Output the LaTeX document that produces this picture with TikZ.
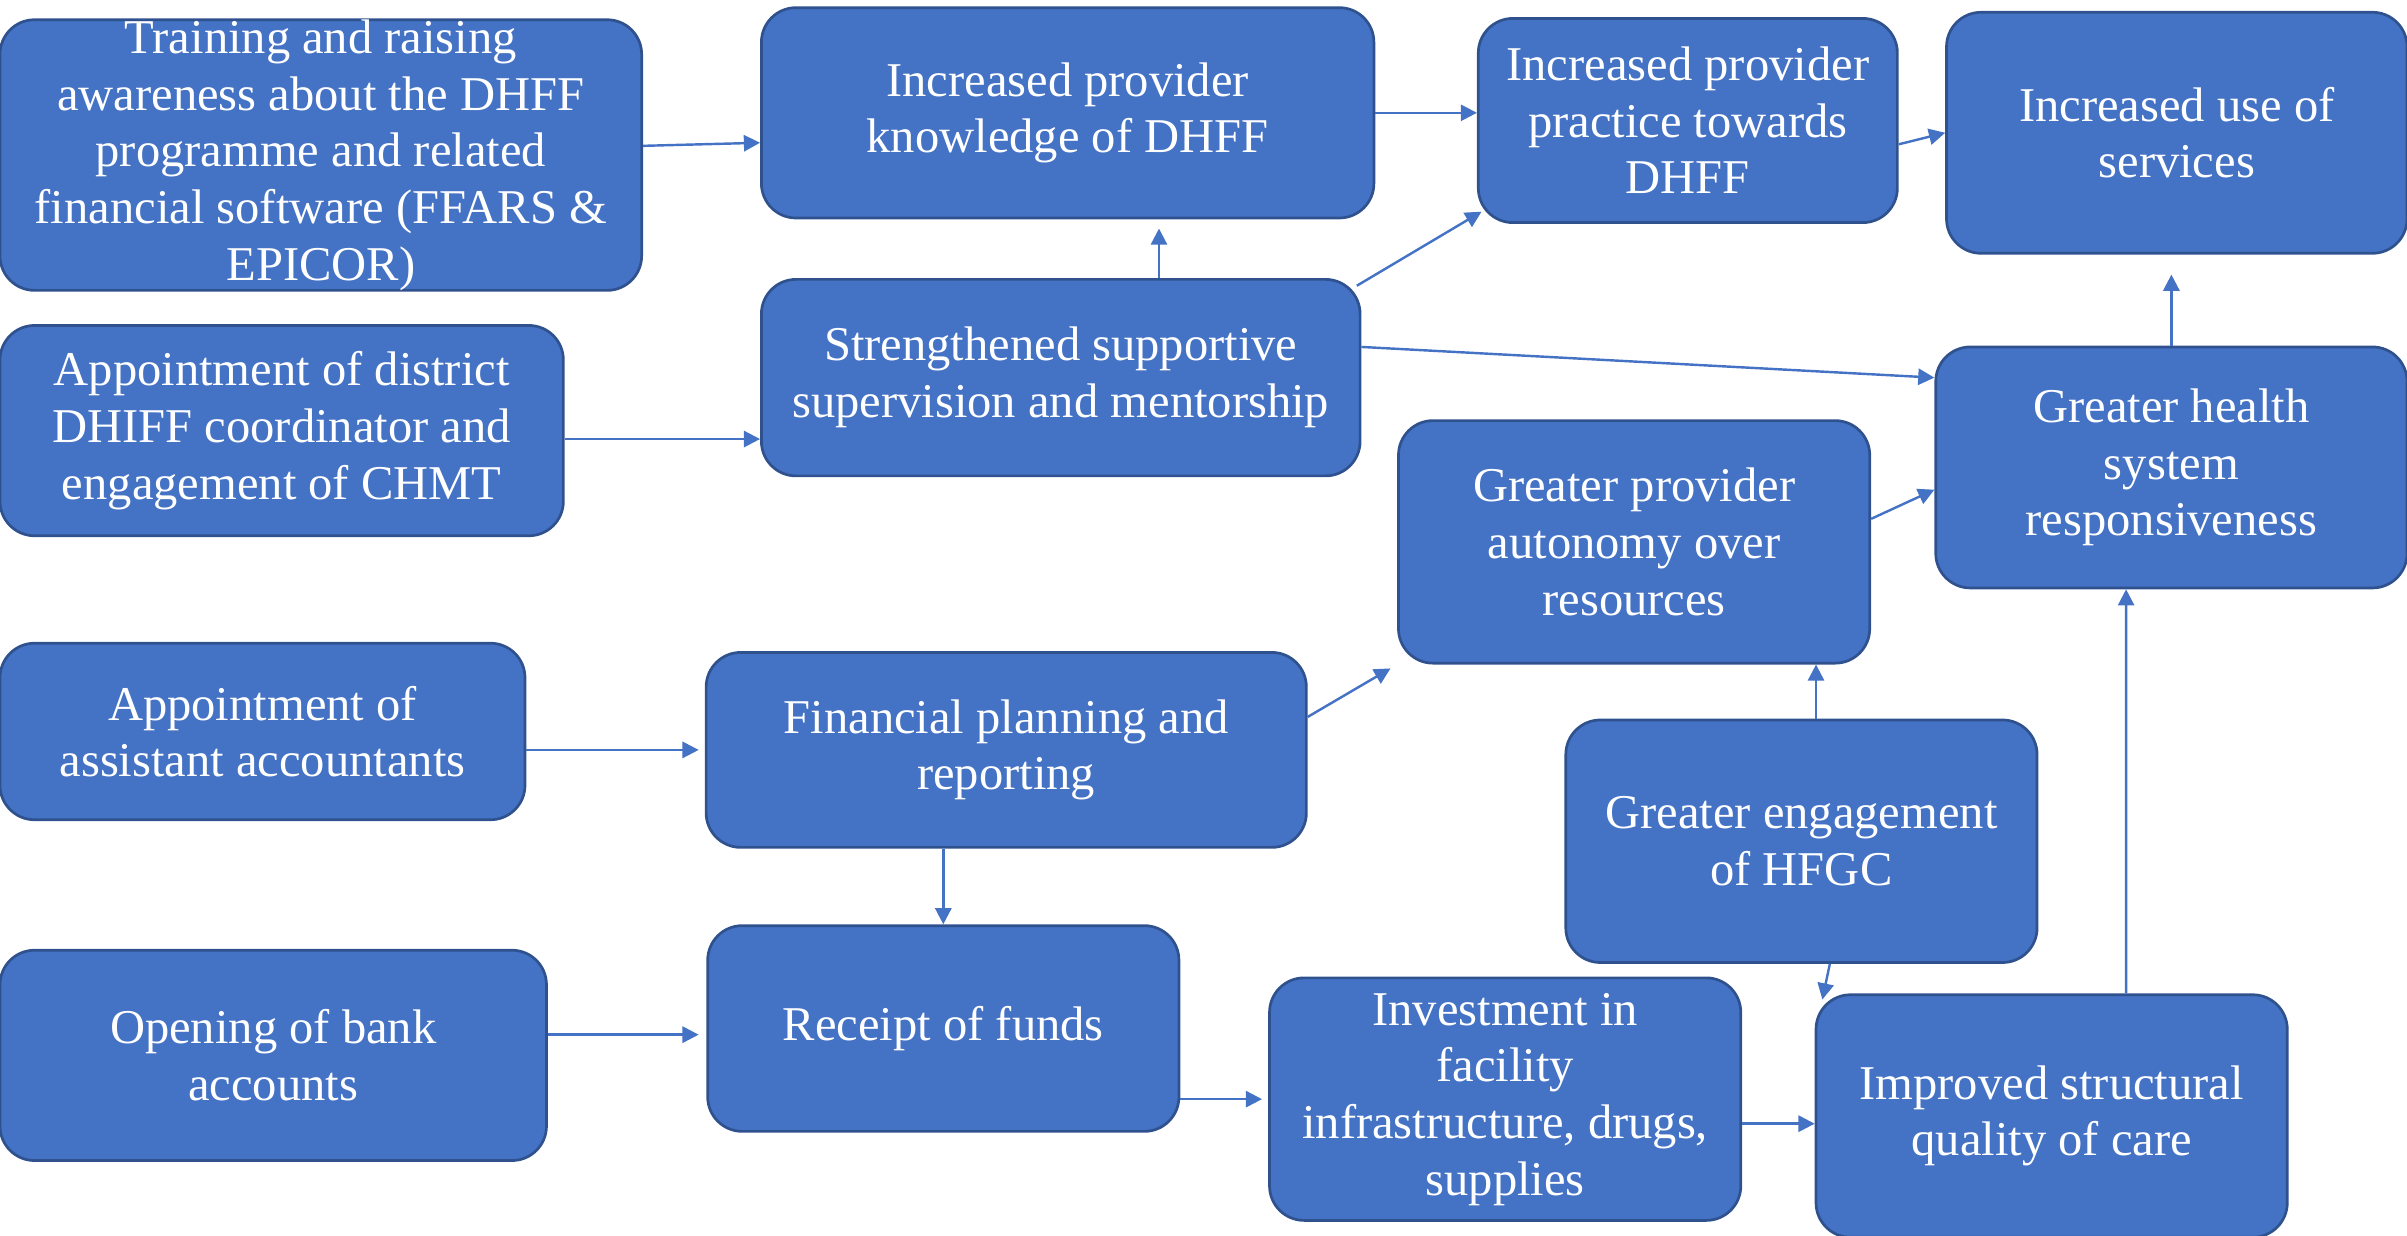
\documentclass[tikz,border=0pt]{standalone}
\usepackage{fontspec}
\setmainfont{Liberation Serif}
\usepackage{tikz}
\usetikzlibrary{positioning}
\usetikzlibrary{arrows.meta,calc}
\definecolor{boxFill}{HTML}{4472C4}
\definecolor{boxEdge}{HTML}{2F528F}
\tikzset{
    stepBox/.style={
		rectangle, rounded corners=0.45cm, fill=boxFill, draw=boxEdge, line width=1pt,
		text=white, align=center, inner sep=0pt,
		font=\fontsize{18}{21}\selectfont
	}
}
\tikzset{
    arr/.style={
		draw=boxFill, line width=0.9pt, -{Triangle[length=6pt,width=6pt]}
	}
}

\begin{document}
\begin{tikzpicture}
			\useasboundingbox (0,0) rectangle (31.36,-16.1);
			\node[stepBox, minimum width=8.36cm, minimum height=3.48cm] (train) at (4.18,-2.02) {Training and raising\\awareness about the DHFF\\programme and related\\financial software (FFARS \&\\EPICOR)};
			\node[stepBox, minimum width=7.98cm, minimum height=2.74cm] (know) at (13.91,-1.47) {Increased provider\\knowledge of DHFF};
			\node[stepBox, minimum width=5.46cm, minimum height=2.66cm] (pract) at (21.99,-1.57) {Increased provider\\practice towards\\DHFF};
			\node[stepBox, minimum width=6.0cm, minimum height=3.14cm] (use) at (28.36,-1.73) {Increased use of\\services};
			\node[stepBox, minimum width=7.34cm, minimum height=2.74cm] (coord) at (3.67,-5.61) {Appointment of district\\DHIFF coordinator and\\engagement of CHMT};
			\node[stepBox, minimum width=7.8cm, minimum height=2.56cm] (superv) at (13.82,-4.92) {Strengthened supportive\\supervision and mentorship};
			\node[stepBox, minimum width=6.14cm, minimum height=3.16cm] (auton) at (21.29,-7.06) {Greater provider\\autonomy over\\resources};
			\node[stepBox, minimum width=6.14cm, minimum height=3.14cm] (resp) at (28.29,-6.09) {Greater health\\system\\responsiveness};
			\node[stepBox, minimum width=6.84cm, minimum height=2.3cm] (acct) at (3.42,-9.53) {Appointment of\\assistant accountants};
			\node[stepBox, minimum width=7.82cm, minimum height=2.54cm] (plan) at (13.11,-9.77) {Financial planning and\\reporting};
			\node[stepBox, minimum width=6.14cm, minimum height=3.16cm] (hfgc) at (23.47,-10.96) {Greater engagement\\of HFGC};
			\node[stepBox, minimum width=7.12cm, minimum height=2.74cm] (bank) at (3.56,-13.75) {Opening of bank\\accounts};
			\node[stepBox, minimum width=6.14cm, minimum height=2.68cm] (funds) at (12.29,-13.4) {Receipt of funds};
			\node[stepBox, minimum width=6.14cm, minimum height=3.16cm] (invest) at (19.61,-14.32) {Investment in\\facility\\infrastructure, drugs,\\supplies};
			\node[stepBox, minimum width=6.14cm, minimum height=3.16cm] (qual) at (26.73,-14.54) {Improved structural\\quality of care};
			\draw[arr] ([yshift=0.12cm]train.east) -- ([yshift=-0.39cm]know.west);
			\draw[arr] (know.east) -- (know.east -| pract.west);
			\draw[arr] ([yshift=-0.31cm]pract.east) -- (use.west);
			\draw[arr, shorten >=0.12cm] ($(superv.north)+(1.28,0)$) -- ($(superv.north |- know.south)+(1.28,0)$);
			\draw[arr] ($(superv.north east)+(-0.06,-0.1)$) -- ($(pract.south west)+(0.06,0.16)$);
			\draw[arr] ([yshift=0.4cm]superv.east) -- ([yshift=1.17cm]resp.west);
			\draw[arr] ($(coord.east)+(0,-0.11)$) -- ($(coord.east -| superv.west)+(0,-0.11)$);
			\draw[arr] ([yshift=0.3cm]auton.east) -- ([yshift=-0.29cm]resp.west);
			\draw[arr, shorten >=0.26cm] (resp.north) -- (resp.north |- use.south);
			\draw[arr, shorten >=0.1cm] ([yshift=0.43cm]plan.east) -- (auton.south west);
			\draw[arr, shorten >=0.08cm] (acct.east |- plan.west) -- (plan.west);
			\draw[arr] (funds.north |- plan.south) -- (funds.north);
			\draw[arr] ($(hfgc.north)+(0.19,0)$) -- ($(hfgc.north |- auton.south)+(0.19,0)$);
			\draw[arr] ($(hfgc.south)+(0.37,0)$) -- ($(qual.north west)+(0.1,-0.08)$);
			\draw[arr, shorten >=0.1cm] ($(bank.east)+(0,0.27)$) -- ($(bank.east -| funds.west)+(0,0.27)$);
			\draw[arr, shorten >=0.08cm] (funds.east |- invest.west) -- (invest.west);
			\draw[arr] ($(invest.east |- qual.west)+(0,-0.1)$) -- ($(qual.west)+(0,-0.1)$);
			\draw[arr] ($(qual.north)+(0.97,0)$) -- ($(resp.south)+(-0.59,0)$);
	\end{tikzpicture}
\end{document}
